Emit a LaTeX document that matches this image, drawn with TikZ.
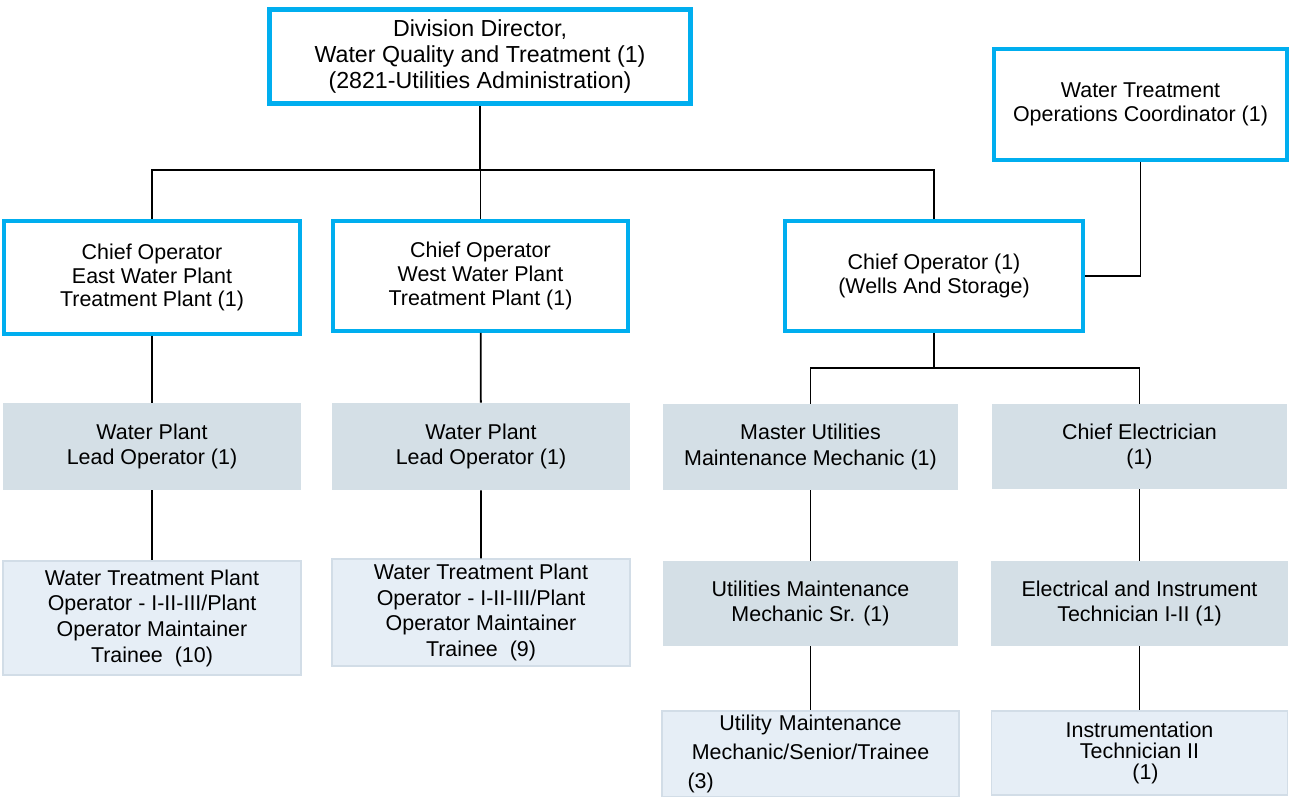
\documentclass[tikz,border=0pt]{standalone}
\usepackage{fontspec}
\setmainfont{Liberation Sans}
\definecolor{chartblue}{HTML}{00AEEF}
\definecolor{leadgray}{HTML}{D4DFE6}
\definecolor{staffblue}{HTML}{E6EEF6}
\definecolor{staffline}{HTML}{D2DDE7}
\begin{document}
\begin{tikzpicture}[x=0.02cm, y=-0.02cm,
  head/.style={draw=chartblue, line width=2.2pt, fill=white, align=center, inner sep=0pt,
    font=\fontsize{12.2}{13.6}\selectfont},
  lead/.style={fill=leadgray, align=center, inner sep=0pt, font=\fontsize{12.2}{14.6}\selectfont},
  staff/.style={fill=staffblue, draw=staffline, line width=0.8pt, align=center, inner sep=0pt,
    font=\fontsize{12.2}{14.6}\selectfont},
  link/.style={black, line width=1pt}]
  \useasboundingbox (0,0) rectangle (1291,797);

  % top of the division
  \node[head, line width=2.8pt, minimum width=8.42cm, minimum height=1.88cm,
    font=\fontsize{13.2}{14.7}\selectfont] (dir) at (480,56.5)
    {Division Director,\\Water Quality and Treatment (1)\\(2821-Utilities Administration)};
  \node[head, minimum width=5.86cm, minimum height=2.22cm] (coord) at (1140.5,104.5)
    {Water Treatment\\Operations Coordinator (1)};

  % chief operators
  \node[head, minimum width=5.92cm, minimum height=2.26cm] (east) at (152,277.5)
    {Chief Operator\\East Water Plant\\Treatment Plant (1)};
  \node[head, minimum width=5.9cm, minimum height=2.2cm] (west) at (480.5,276)
    {Chief Operator\\West Water Plant\\Treatment Plant (1)};
  \node[head, minimum width=5.96cm, minimum height=2.2cm] (wells) at (934,276)
    {Chief Operator (1)\\(Wells And Storage)};

  % leads
  \node[lead, minimum width=5.96cm, minimum height=1.74cm] (eastlead) at (152,446.5)
    {Water Plant\\Lead Operator (1)};
  \node[lead, minimum width=5.96cm, minimum height=1.74cm] (westlead) at (481,446.5)
    {Water Plant\\Lead Operator (1)};
  \node[lead, minimum width=5.9cm, minimum height=1.72cm] (master) at (810.5,447)
    {Master Utilities\\Maintenance Mechanic (1)};
  \node[lead, minimum width=5.9cm, minimum height=1.7cm] (elec) at (1139.5,446.5)
    {Chief Electrician\\(1)};
  \node[lead, minimum width=5.9cm, minimum height=1.7cm] (mechsr) at (810.5,603.5)
    {Utilities Maintenance\\Mechanic Sr. (1)};
  \node[lead, minimum width=5.96cm, minimum height=1.7cm] (elecinst) at (1139.5,603.5)
    {Electrical and Instrument\\Technician I-II (1)};

  % staff
  \node[staff, minimum width=5.96cm, minimum height=2.28cm] (easttr) at (152,618)
    {Water Treatment Plant\\Operator - I-II-III/Plant\\Operator Maintainer\\Trainee\ \ (10)};
  \node[staff, minimum width=5.96cm, minimum height=2.14cm] (westtr) at (481,612.5)
    {Water Treatment Plant\\Operator - I-II-III/Plant\\Operator Maintainer\\Trainee\ \ (9)};
  \node[staff, minimum width=5.94cm, minimum height=1.72cm, text width=4.92cm,
    font=\fontsize{12.2}{16.4}\selectfont] (utilmech) at (810.5,754)
    {Utility Maintenance\\Mechanic/Senior/Trainee\\(3)\hfill\null};
  \node[staff, minimum width=5.92cm, minimum height=1.68cm,
    font=\fontsize{12.2}{11.8}\selectfont] (instr) at (1139.5,753)
    {Instrumentation\\Technician II\\\ \ (1)};

  % reporting lines
  \coordinate (topbus) at (480,170);
  \coordinate (wellsbus) at (934,368);
  \draw[link] (dir.south) -- (topbus);
  \draw[link] (east.north) |- (topbus) -| (wells.north);
  \draw[link] (west.north) -- (west.north |- topbus);
  \draw[link] (coord.south) |- (wells.east);
  \draw[link] (east) -- (eastlead) -- (easttr);
  \draw[link] (west) -- (westlead) -- (westtr);
  \draw[link] (wells.south) -- (wellsbus);
  \draw[link] (master.north) |- (wellsbus) -| (elec.north);
  \draw[link] (master) -- (mechsr) -- (utilmech);
  \draw[link] (elec) -- (elecinst) -- (instr);
\end{tikzpicture}
\end{document}
